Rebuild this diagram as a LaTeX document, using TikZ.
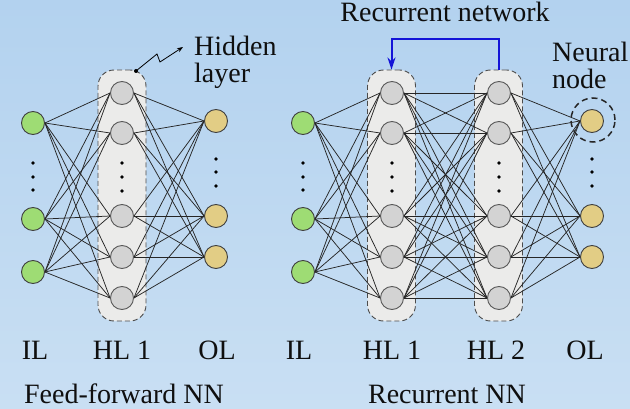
\documentclass[tikz,border=0pt]{standalone}
\usepackage{fontspec}
\setmainfont{Liberation Serif}
\usetikzlibrary{arrows.meta,calc}
\definecolor{bgtop}{RGB}{179,210,239}
\definecolor{bgbot}{RGB}{201,223,243}
\definecolor{ilgreen}{RGB}{158,220,116}
\definecolor{olyellow}{RGB}{226,205,133}
\definecolor{hlgray}{RGB}{211,211,211}
\definecolor{boxgray}{RGB}{235,235,234}
\definecolor{recblue}{RGB}{20,20,215}
\definecolor{txt}{RGB}{15,15,15}
\pgfdeclarelayer{bg}
\pgfdeclarelayer{mid}
\pgfsetlayers{bg,mid,main}
\begin{document}
\begin{tikzpicture}[x=1pt,y=-1pt,
  neuron/.style={circle,draw=black!75,line width=0.9pt,minimum size=23pt,inner sep=0pt},
  innode/.style={neuron,fill=ilgreen},
  hnode/.style={neuron,fill=hlgray,draw=black!65},
  onode/.style={neuron,fill=olyellow},
  hbox/.style={draw=black!70,dash pattern=on 5pt off 3pt,fill=boxgray,rounded corners=16pt,minimum width=48pt,minimum height=251pt,inner sep=0pt,line width=0.9pt},
  conn/.style={draw=black!85,line width=0.75pt},
  lbl/.style={font=\fontsize{28}{30}\selectfont,text=txt,inner sep=0pt,anchor=base},
  lblw/.style={lbl,anchor=base west},
  dotn/.style={circle,fill=black,inner sep=0pt,minimum size=3.6pt},
  recarrow/.style={draw=recblue,line width=2pt,-{Stealth[length=12pt,width=8pt]}},
  nnring/.style={circle,draw=black!85,line width=1.5pt,dash pattern=on 6pt off 4pt,minimum size=44pt,inner sep=0pt}
]
\useasboundingbox (0,0) rectangle (630,409);
\begin{pgfonlayer}{bg}
  \shade[top color=bgtop,bottom color=bgbot] (0,0) rectangle (630,409);
  \node[hbox] (boxA) at (122,195.5) {};
  \node[hbox] (boxC) at (391.5,195.5) {};
  \node[hbox] (boxD) at (498.5,195.5) {};
\end{pgfonlayer}

% feed-forward nodes
\foreach \y [count=\i] in {123,219,272} \node[innode] (fi\i) at (33,\y) {};
\foreach \y [count=\i] in {93,133,216,257,298} \node[hnode] (fh\i) at (122,\y) {};
\foreach \y [count=\i] in {121,216,257} \node[onode] (fo\i) at (216,\y) {};
% recurrent nodes
\foreach \y [count=\i] in {123,219,272} \node[innode] (ri\i) at (303,\y) {};
\foreach \y [count=\i] in {93,133,216,257,298} \node[hnode] (rh\i) at (392,\y) {};
\foreach \y [count=\i] in {93,133,216,257,298} \node[hnode] (rg\i) at (499,\y) {};
\foreach \y [count=\i] in {121,216,257} \node[onode] (ro\i) at (592,\y) {};

% connections
\begin{pgfonlayer}{mid}
  \foreach \i in {1,2,3} \foreach \j in {1,...,5} {
    \draw[conn] (fi\i.east) -- (fh\j.west);
    \draw[conn] (fh\j.east) -- (fo\i.west);
    \draw[conn] (ri\i.east) -- (rh\j.west);
    \draw[conn] (rg\j.east) -- (ro\i.west);
  }
  \foreach \i in {1,...,5} \foreach \j in {1,...,5}
    \draw[conn] (rh\i.east) -- (rg\j.west);
\end{pgfonlayer}

% vertical dots
\foreach \y [count=\k] in {163,177,190} {
  \node[dotn] (fid\k) at (33,\y) {};
  \node[dotn] (rid\k) at (303,\y) {};
}
\foreach \y [count=\k] in {163,177,191} {
  \node[dotn] (fhd\k) at (122,\y) {};
  \node[dotn] (rhd\k) at (392,\y) {};
  \node[dotn] (rgd\k) at (499,\y) {};
}
\foreach \y [count=\k] in {159,172,186} {
  \node[dotn] (fod\k) at (216,\y) {};
  \node[dotn] (rod\k) at (592,\y) {};
}

% neural node ring
\node[nnring] (ring) at (593,120) {};

% recurrent feedback arrow
\coordinate (rtop) at (0,39);
\draw[recarrow] (boxD.north) -- (boxD.north |- rtop) -- (boxC.north |- rtop) -- (boxC.north);

% hidden layer pointer
\coordinate (sqs) at (136,71);
\coordinate (sqe) at (183,47);
\fill[black] (sqs) circle (2pt);
\draw[line width=0.8pt,-{Stealth[length=6pt,width=4.5pt]}] (sqs) -- (157,54) -- (160,62) -- (sqe);

% texts
\node[lblw] (thid) at (194,56) {Hidden};
\node[lblw] (tlay) at (194,83) {layer};
\node[lblw] (tneu) at (552,62) {Neural};
\node[lblw] (tnod) at (552,89) {node};
\node[lbl] (trn) at (445,22) {Recurrent network};

\node[lbl] (l1) at (35,359) {IL};
\node[lbl] (l2) at (122,359) {HL 1};
\node[lbl] (l3) at (217,359) {OL};
\node[lbl] (l4) at (299,359) {IL};
\node[lbl] (l5) at (392,359) {HL 1};
\node[lbl] (l6) at (496,359) {HL 2};
\node[lbl] (l7) at (585,359) {OL};

\node[lbl] (cap1) at (124,403) {Feed-forward NN};
\node[lbl] (cap2) at (447,403) {Recurrent NN};
\end{tikzpicture}
\end{document}
